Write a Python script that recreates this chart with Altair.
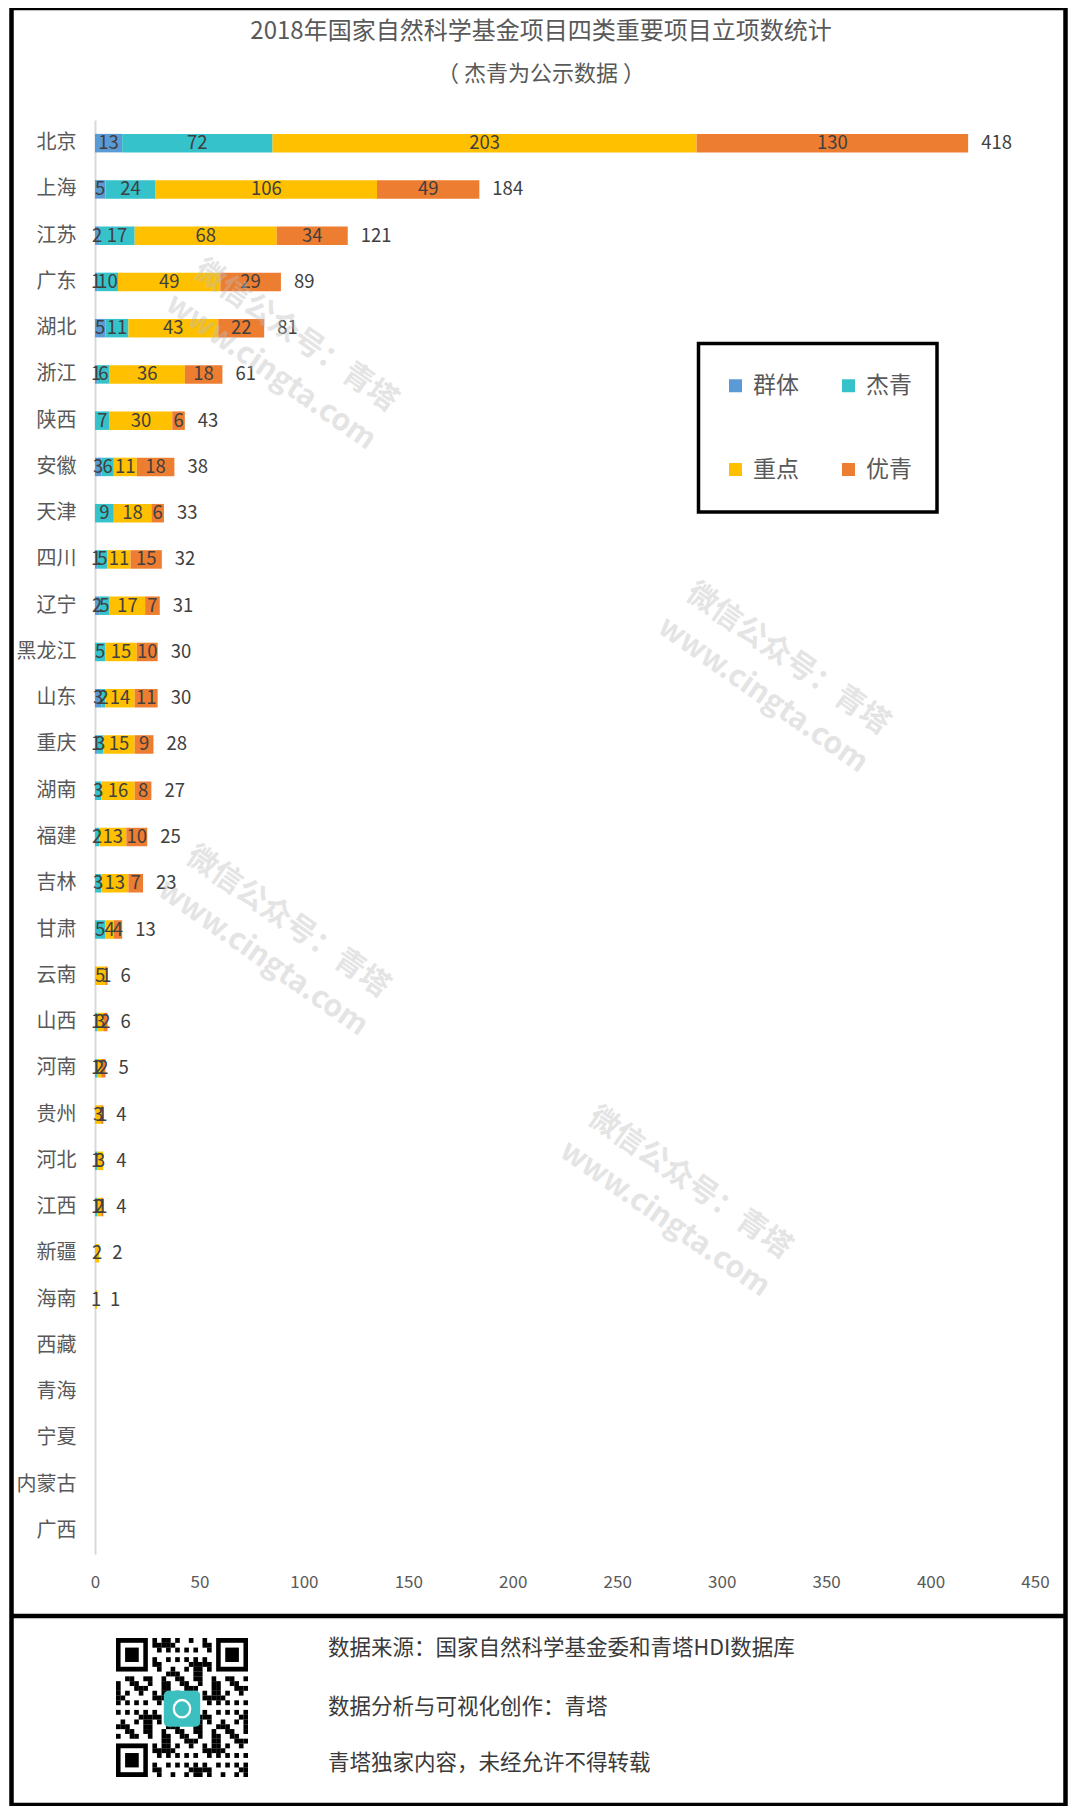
import base64
import altair as alt
import pandas as pd

# ---------------- data ----------------
provinces = ["北京", "上海", "江苏", "广东", "湖北", "浙江", "陕西", "安徽", "天津", "四川",
             "辽宁", "黑龙江", "山东", "重庆", "湖南", "福建", "吉林", "甘肃", "云南", "山西",
             "河南", "贵州", "河北", "江西", "新疆", "海南", "西藏", "青海", "宁夏", "内蒙古", "广西"]
qunti = [13, 5, 2, 1, 5, 1, 0, 3, 0, 1, 2, 0, 3, 1, 0, 0, 0, 0, 0, 0, 0, 0, 0, 0, 0, 0, 0, 0, 0, 0, 0]
jieqing = [72, 24, 17, 10, 11, 6, 7, 6, 9, 5, 5, 5, 2, 3, 3, 2, 3, 5, 0, 1, 1, 0, 1, 1, 0, 0, 0, 0, 0, 0, 0]
zhongdian = [203, 106, 68, 49, 43, 36, 30, 11, 18, 11, 17, 15, 14, 15, 16, 13, 13, 4, 5, 3, 2, 3, 3, 2, 2, 1, 0, 0, 0, 0, 0]
youqing = [130, 49, 34, 29, 22, 18, 6, 18, 6, 15, 7, 10, 11, 9, 8, 10, 7, 4, 1, 2, 2, 1, 0, 1, 0, 0, 0, 0, 0, 0, 0]

series_names = ["群体", "杰青", "重点", "优青"]
series_colors = ["#5B9BD5", "#36C2CB", "#FFC000", "#ED7D31"]
x_ticks = [0, 50, 100, 150, 200, 250, 300, 350, 400, 450]

title_text = "2018年国家自然科学基金项目四类重要项目立项数统计"
subtitle_text = "（ 杰青为公示数据 ）"
footer_lines = ["数据来源：国家自然科学基金委和青塔HDI数据库",
                "数据分析与可视化创作：青塔",
                "青塔独家内容，未经允许不得转载"]
watermark_text = "微信公众号：青塔\nwww.cingta.com"

rows = []
for k, (name, vals) in enumerate(zip(series_names, [qunti, jieqing, zhongdian, youqing])):
    for p, v in zip(provinces, vals):
        rows.append({"province": p, "series": name, "ord": k, "value": v})
df = pd.DataFrame(rows)

FONT = "Noto Sans CJK SC"
W, H = 940, 1434

x_scale = alt.Scale(domain=[0, 450], nice=False, zero=True)
y_enc = alt.Y("province:N", sort=provinces, title=None,
              scale=alt.Scale(domain=provinces, paddingInner=0.6, paddingOuter=0.3))

bars = alt.Chart(df).transform_filter("datum.value > 0").mark_bar().encode(
    x=alt.X("value:Q", stack="zero", scale=x_scale, title=None,
            axis=alt.Axis(values=x_ticks, labelFlush=False)),
    y=y_enc,
    color=alt.Color("series:N",
                    scale=alt.Scale(domain=series_names, range=series_colors),
                    legend=alt.Legend(orient="none", legendX=629, legendY=254,
                                      direction="horizontal",
                                      columns=2, symbolType="square", symbolSize=169,
                                      symbolStrokeWidth=0, labelFontSize=23,
                                      labelColor="#595959", labelFont=FONT,
                                      labelOffset=6, columnPadding=38, rowPadding=60,
                                      padding=0, title=None)),
    order=alt.Order("ord:Q", sort="ascending"),
)

seg = alt.Chart(df).transform_filter("datum.value > 0").transform_stack(
    stack="value", groupby=["province"],
    sort=[alt.SortField("ord", order="ascending")], as_=["v0", "v1"]
).transform_calculate(mid="(datum.v0 + datum.v1) / 2").mark_text(
    fontSize=18.5, color="#404040", align="center", baseline="middle", font=FONT
).encode(
    x=alt.X("mid:Q", scale=x_scale, title=None),
    y=y_enc,
    text="value:Q",
)

tot = alt.Chart(df).transform_aggregate(
    total="sum(value)", groupby=["province"]
).transform_filter("datum.total > 0").mark_text(
    align="left", baseline="middle", dx=13, fontSize=18.5, color="#404040", font=FONT
).encode(
    x=alt.X("total:Q", scale=x_scale, title=None),
    y=y_enc,
    text="total:Q",
)

one = pd.DataFrame({"k": [0]})

border = alt.Chart(one).mark_rect(fill="transparent", stroke="#000000", strokeWidth=4.5).encode(
    x=alt.value(-83.5), x2=alt.value(970.5), y=alt.value(-112), y2=alt.value(1685))
divider = alt.Chart(one).mark_rule(color="#000000", strokeWidth=4.5).encode(
    x=alt.value(-83.5), x2=alt.value(970.5), y=alt.value(1496))
legend_box = alt.Chart(one).mark_rect(fill="transparent", stroke="#000000", strokeWidth=3.5).encode(
    x=alt.value(603.5), x2=alt.value(842), y=alt.value(223.5), y2=alt.value(392))

title = alt.Chart(one).mark_text(fontSize=24, color="#595959", font=FONT,
                                 align="center", baseline="middle").encode(
    x=alt.value(446), y=alt.value(-88), text=alt.value(title_text))
subtitle = alt.Chart(one).mark_text(fontSize=22, color="#595959", font=FONT,
                                    align="center", baseline="middle").encode(
    x=alt.value(446), y=alt.value(-46), text=alt.value(subtitle_text))

footer = []
for txt, yy in zip(footer_lines, [1529, 1588, 1644]):
    footer.append(alt.Chart(one).mark_text(fontSize=21.5, color="#3a3a3a", font=FONT,
                                           align="left", baseline="middle").encode(
        x=alt.value(233), y=alt.value(yy), text=alt.value(txt)))

watermarks = []
for wx, wy in [(201, 216), (693, 539), (193, 802), (595, 1063)]:
    watermarks.append(alt.Chart(one).mark_text(
        fontSize=30, fontWeight="bold", color="#bdbdbd", opacity=0.4, font=FONT,
        angle=35, align="center", baseline="middle", lineBreak="\n", lineHeight=44
    ).encode(x=alt.value(wx), y=alt.value(wy), text=alt.value(watermark_text)))

# QR-code-like picture (decorative image)
n = 29
parts = []
def finder(ox, oy):
    parts.append(f'<rect x="{ox}" y="{oy}" width="7" height="7" fill="#000"/>')
    parts.append(f'<rect x="{ox+1}" y="{oy+1}" width="5" height="5" fill="#fff"/>')
    parts.append(f'<rect x="{ox+2}" y="{oy+2}" width="3" height="3" fill="#000"/>')
for i in range(n):
    for j in range(n):
        if (i < 8 and j < 8) or (i < 8 and j >= n - 8) or (i >= n - 8 and j < 8):
            continue
        if ((i * i * 3 + j * 7 + i * j * 5) % 11) < 5:
            parts.append(f'<rect x="{j}" y="{i}" width="1.02" height="1.02" fill="#000"/>')
finder(0, 0); finder(n - 7, 0); finder(0, n - 7)
parts.append('<rect x="10.5" y="11" width="8" height="7.5" rx="1" fill="#3BBFBF"/>')
parts.append('<circle cx="14.5" cy="14.75" r="1.8" fill="none" stroke="#fff" stroke-width="0.5"/>')
svg = (f'<svg xmlns="http://www.w3.org/2000/svg" viewBox="0 0 {n} {n}" '
       f'preserveAspectRatio="none" width="132" height="139">'
       f'<rect width="{n}" height="{n}" fill="#fff"/>' + "".join(parts) + '</svg>')
uri = "data:image/svg+xml;base64," + base64.b64encode(svg.encode("utf-8")).decode("ascii")
qr = alt.Chart(pd.DataFrame({"u": [uri]})).mark_image(
    width=132, height=139, align="left", baseline="top", aspect=False
).encode(x=alt.value(21), y=alt.value(1518), url="u:N")

chart = alt.layer(
    bars, seg, tot, *watermarks, border, divider, legend_box, title, subtitle, *footer, qr
).properties(
    width=W, height=H,
    padding={"left": 87, "top": 112, "right": 33, "bottom": 252},
    autosize=alt.AutoSizeParams(type="none"),
    background="#ffffff",
).configure(font=FONT).configure_view(stroke=None).configure_axisY(
    domainColor="#d9d9d9", domainWidth=2, ticks=False, grid=False,
    labelFontSize=20, labelColor="#595959", labelPadding=19, labelFont=FONT,
).configure_axisX(
    domain=False, ticks=False, grid=False, labelFontSize=17,
    labelColor="#595959", labelPadding=20, labelFont=FONT,
)

chart.save("out.html", embed_options={"renderer": "svg", "actions": False})
